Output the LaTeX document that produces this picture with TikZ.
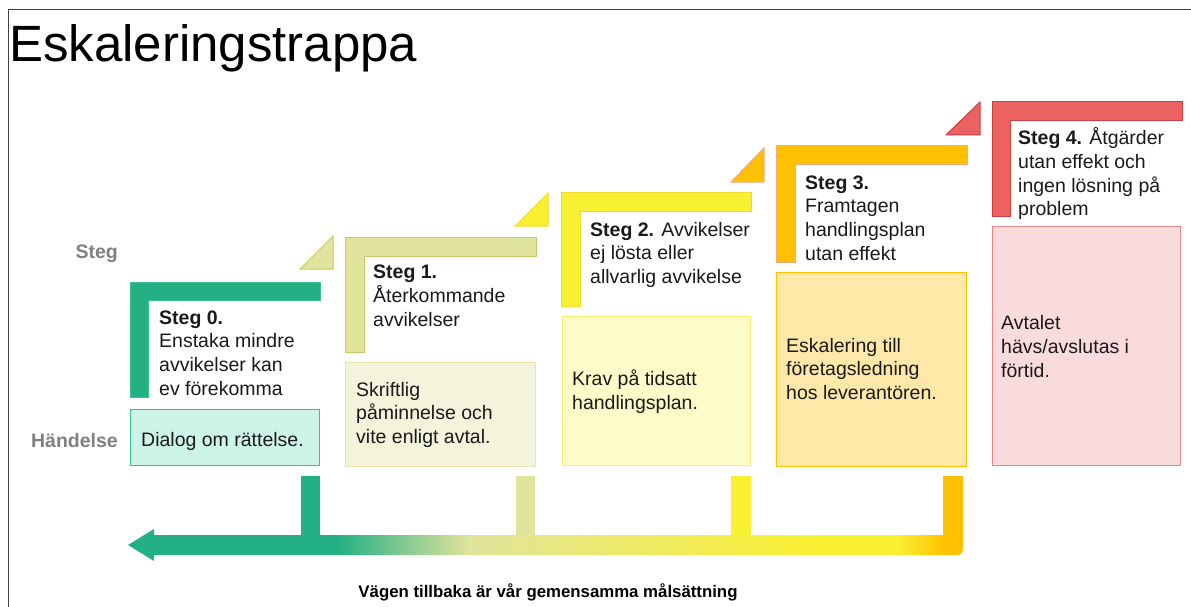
\documentclass[tikz,border=0pt]{standalone}
\usepackage{fontspec}
\setmainfont{Liberation Sans}
\definecolor{cgreen}{HTML}{22B084}
\definecolor{cgreenb}{HTML}{3CBF8F}
\definecolor{cgreenbox}{HTML}{CCF5E5}
\definecolor{colive}{HTML}{E1E49D}
\definecolor{coliveb}{HTML}{C9CB68}
\definecolor{colivebox}{HTML}{F4F4DD}
\definecolor{colivebb}{HTML}{E6E6AC}
\definecolor{cyellow}{HTML}{FAF032}
\definecolor{cyellowb}{HTML}{EEDC2C}
\definecolor{cyellowbox}{HTML}{FFFBC9}
\definecolor{cyellowbb}{HTML}{F8EE70}
\definecolor{corange}{HTML}{FFC000}
\definecolor{corangeb}{HTML}{F4A880}
\definecolor{corangebox}{HTML}{FFE8A8}
\definecolor{cred}{HTML}{EB6262}
\definecolor{credb}{HTML}{D23C3C}
\definecolor{credbox}{HTML}{FADBDB}
\definecolor{credbb}{HTML}{E88585}
\definecolor{cgraytxt}{HTML}{808080}
\definecolor{cframe}{HTML}{404040}
\definecolor{ctext}{HTML}{1A1A1A}
\pgfdeclarehorizontalshading{backpath}{100bp}{color(0bp)=(cgreen); color(37.5bp)=(cgreen); color(45.5bp)=(colive); color(53bp)=(colive!60!cyellow); color(66bp)=(cyellow); color(71bp)=(cyellow); color(74bp)=(corange); color(100bp)=(corange)}
\newcommand{\fsmain}{\fontsize{19.5}{23.7}\selectfont}
\newcommand{\tl}{\rule{0pt}{19pt}}
\tikzset{
  txt/.style={anchor=north west, inner sep=0pt, align=left, font=\fsmain, text=ctext},
  sidelbl/.style={anchor=base east, inner sep=0pt, font=\fsmain\bfseries, text=cgraytxt},
  boxnode/.style={anchor=north west, inner sep=0pt, line width=1pt},
  lshape/.style={line width=1pt},
  tri/.style={line width=1pt},
}
\begin{document}
\begin{tikzpicture}[x=1pt,y=-1pt]
\useasboundingbox (0,0) rectangle (1191,607);
\fill[white] (0,0) rectangle (1191,607);
% frame
\draw[cframe, line width=1pt] (8,607) -- (8,10) -- (1191,10);
% title
\node[anchor=base west, inner sep=0pt, font=\fontsize{51}{60}\selectfont, text=black] (title) at (9,62) {Eskaleringstrappa};
% side labels
\node[sidelbl] (lsteg) at (118,258) {Steg};
\node[sidelbl] (lhand) at (118,447) {Händelse};

% bottom back path (shaded)
\path[shading=backpath] (128,545) -- (154,529) -- (154,535) -- (943,535) -- (943,476) -- (963,476) -- (963,550) arc[start angle=0,end angle=90,radius=5] -- (154,555) -- (154,561) -- cycle;
\fill[corange] (943,476) rectangle (963,532);
\fill[cgreen] (301,476) rectangle (320,536);
\fill[colive] (516,476) rectangle (535,536);
\fill[cyellow] (731,476) rectangle (751,536);

% step 0
\filldraw[lshape, fill=cgreen, draw=cgreenb] (130,282) -- (320,282) -- (320,300) -- (148,300) -- (148,397) -- (130,397) -- cycle;
\node[boxnode, fill=cgreenbox, draw=cgreenb, minimum width=189pt, minimum height=56pt] (b0) at (130,409) {};
\node[txt] (s0) at (159,305) {\tl\textbf{Steg 0.}\\Enstaka mindre\\avvikelser kan\\ev förekomma};
\node[txt] (h0) at (141,427) {\tl Dialog om rättelse.};
\filldraw[tri, fill=colive, draw=coliveb] (300,269) -- (333,269) -- (333,236) -- cycle;

% step 1
\filldraw[lshape, fill=colive, draw=coliveb] (345,237) -- (536,237) -- (536,256) -- (364,256) -- (364,352) -- (345,352) -- cycle;
\node[boxnode, fill=colivebox, draw=colivebb, minimum width=190pt, minimum height=104pt] (b1) at (345,362) {};
\node[txt] (s1) at (373,259.5) {\tl\textbf{Steg 1.}\\Återkommande\\avvikelser};
\node[txt] (h1) at (356,377) {\tl Skriftlig\\påminnelse och\\vite enligt avtal.};
\filldraw[tri, fill=cyellow, draw=cyellowb] (515,226) -- (548,226) -- (548,193) -- cycle;

% step 2
\filldraw[lshape, fill=cyellow, draw=cyellowb] (561,192) -- (751,192) -- (751,211) -- (580,211) -- (580,306) -- (561,306) -- cycle;
\node[boxnode, fill=cyellowbox, draw=cyellowbb, minimum width=188pt, minimum height=149pt] (b2) at (562,316) {};
\node[txt] (s2) at (590,217) {\tl\textbf{Steg 2.} Avvikelser\\ej lösta eller\\allvarlig avvikelse};
\node[txt] (h2) at (572,366.5) {\tl Krav på tidsatt\\handlingsplan.};
\filldraw[tri, fill=corange, draw=corangeb] (731,182) -- (764,182) -- (764,148) -- cycle;

% step 3
\filldraw[lshape, fill=corange, draw=corangeb] (776,146) -- (967,146) -- (967,164) -- (795,164) -- (795,262) -- (776,262) -- cycle;
\node[boxnode, fill=corangebox, draw=corange, minimum width=190pt, minimum height=194pt] (b3) at (776,272) {};
\node[txt] (s3) at (805,170) {\tl\textbf{Steg 3.}\\Framtagen\\handlingsplan\\utan effekt};
\node[txt] (h3) at (786,333) {\tl Eskalering till\\företagsledning\\hos leverantören.};
\filldraw[tri, fill=cred, draw=credb] (946,135) -- (980,135) -- (980,102) -- cycle;

% step 4
\filldraw[lshape, fill=cred, draw=credb] (992,102) -- (1182,102) -- (1182,121) -- (1010,121) -- (1010,216) -- (992,216) -- cycle;
\node[boxnode, fill=credbox, draw=credbb, minimum width=188pt, minimum height=239pt] (b4) at (992,226) {};
\node[txt] (s4) at (1018,125.5) {\tl\textbf{Steg 4.} Åtgärder\\utan effekt och\\ingen lösning på\\problem};
\node[txt] (h4) at (1001,310.5) {\tl Avtalet\\hävs/avslutas i\\förtid.};

% bottom caption
\node[anchor=base, inner sep=0pt, font=\fontsize{16.8}{20}\selectfont\bfseries, text=black] (cap) at (548,597) {Vägen tillbaka är vår gemensamma målsättning};
\end{tikzpicture}
\end{document}
